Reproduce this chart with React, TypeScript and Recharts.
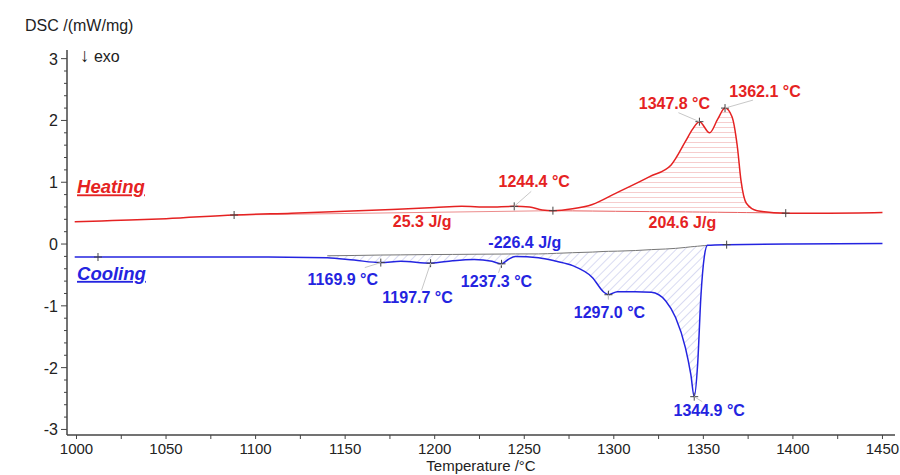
import React from "react";
import {
  ComposedChart,
  Line,
  Area,
  Scatter,
  XAxis,
  YAxis,
  ReferenceDot,
} from "recharts";

// heating run
const heatTemp = [
  999, 1020, 1050, 1088, 1120, 1150, 1176, 1200, 1215, 1230, 1244.4, 1253,
  1260, 1266, 1277, 1288, 1301, 1320, 1332, 1340, 1344, 1347.8, 1353.5, 1358,
  1362.1, 1366, 1369, 1371, 1374, 1380, 1396, 1420, 1450,
];
const heatDsc = [
  0.36, 0.38, 0.41, 0.47, 0.5, 0.53, 0.56, 0.59, 0.61, 0.6, 0.61, 0.6, 0.55,
  0.54, 0.57, 0.64, 0.82, 1.09, 1.28, 1.66, 1.86, 1.98, 1.8, 2.02, 2.2, 2.06,
  1.57, 1.03, 0.66, 0.54, 0.5, 0.5, 0.51,
];
// integration baseline under the melting peak
const heatBase = [
  null, null, null, null, null, null, null, null, null, null, null, null, null,
  0.54, 0.537, 0.534, 0.53, 0.525, 0.522, 0.52, 0.519, 0.518, 0.516, 0.515,
  0.513, 0.512, 0.511, 0.51, 0.509, 0.507, 0.5, null, null,
];

// cooling run
const coolTemp = [
  999, 1012, 1050, 1100, 1140, 1155, 1169.9, 1181, 1197.7, 1210, 1222, 1232,
  1237.3, 1241, 1245, 1258, 1268, 1277, 1288, 1294.5, 1297.0, 1302, 1312, 1321,
  1329, 1334.5, 1340, 1343, 1344.9, 1346.8, 1348.6, 1350.5, 1352.3, 1363, 1400,
  1450,
];
const coolDsc = [
  -0.21, -0.21, -0.21, -0.21, -0.22, -0.26, -0.3, -0.28, -0.31, -0.27, -0.25,
  -0.28, -0.32, -0.25, -0.2, -0.22, -0.28, -0.35, -0.54, -0.78, -0.82, -0.77,
  -0.77, -0.78, -0.92, -1.19, -1.68, -2.11, -2.47, -1.95, -0.86, -0.21, -0.02,
  -0.01, 0.0, 0.01,
];
const coolBase = [
  null, null, null, null, -0.19, -0.185, -0.178, -0.175, -0.17, -0.168, -0.165,
  -0.163, -0.162, -0.161, -0.16, -0.16, -0.15, -0.14, -0.13, -0.12, -0.118,
  -0.115, -0.105, -0.09, -0.08, -0.07, -0.055, -0.045, -0.04, -0.035, -0.03,
  -0.025, -0.02, null, null, null,
];

const heatMarks = [1088, 1244.4, 1266, 1347.8, 1362.1, 1396];
const coolMarks = [1012, 1169.9, 1197.7, 1237.3, 1297.0, 1344.9, 1363];
const heatPeaks = [1244.4, 1347.8, 1362.1];
const coolPeaks = [1169.9, 1197.7, 1237.3, 1297.0, 1344.9];
const heatEnthalpy = [25.3, 204.6];
const coolEnthalpy = [-226.4];

const xMajor = [1000, 1050, 1100, 1150, 1200, 1250, 1300, 1350, 1400, 1450];
const yMajor = [-3, -2, -1, 0, 1, 2, 3];

const xTicks: number[] = [];
for (let t = 1000; t <= 1450; t += 25) xTicks.push(t);
const yTicks: number[] = [];
for (let i = -15; i <= 15; i++) yTicks.push(Math.round(i * 2) / 10);

const RED = "#e52222";
const BLUE = "#2424e0";
const FONT = "'Liberation Sans', Arial, sans-serif";

const heatLine = heatTemp.map((t, i) => ({ t, v: heatDsc[i] }));
const coolLine = coolTemp.map((t, i) => ({ t, v: coolDsc[i] }));
const heatBaseLine = heatTemp
  .map((t, i) => ({ t, v: heatBase[i] }))
  .filter((d) => d.v != null);
const coolBaseLine = coolTemp
  .map((t, i) => ({ t, v: coolBase[i] }))
  .filter((d) => d.v != null);
const heatHatch = heatTemp
  .map((t, i) => ({ t, range: [heatBase[i], heatDsc[i]] }))
  .filter((d) => d.range[0] != null);
const coolHatch = coolTemp
  .map((t, i) => ({ t, range: [coolDsc[i], coolBase[i]] }))
  .filter((d) => d.range[1] != null);

const heatAt = (t: number) => heatDsc[heatTemp.indexOf(t)];
const coolAt = (t: number) => coolDsc[coolTemp.indexOf(t)];

// small pre-melting step, baseline between its two limits
const smallBase = [1088, 1266].map((t) => ({ t, v: heatAt(t) }));

const heatMarkPts = heatMarks.map((t) => ({ t, v: heatAt(t) }));
const coolMarkPts = coolMarks.map((t) => ({ t, v: coolAt(t) }));

// label offsets (px) from each peak marker, and leader line end
const heatPeakLayout = [
  { dx: 20, dy: -19, lx: 17, ly: -15 },
  { dx: -25, dy: -13, lx: -21, ly: -9 },
  { dx: 40, dy: -11, lx: 28, ly: -8 },
];
const coolPeakLayout = [
  { dx: -38, dy: 22, lx: -16, ly: 5 },
  { dx: -13, dy: 40, lx: -9, ly: 27 },
  { dx: -5, dy: 23, lx: -3, ly: 9 },
  { dx: 1, dy: 23, lx: 0, ly: 5 },
  { dx: 15, dy: 19, lx: 8, ly: 5 },
];
const heatEnthalpyPos = [
  { x: 1193, y: 0.28 },
  { x: 1338.3, y: 0.26 },
];
const coolEnthalpyPos = [{ x: 1250.3, y: -0.07 }];

const Cross = (props: any) => {
  const { cx, cy } = props;
  if (cx == null || cy == null) return <g />;
  return (
    <path
      d={`M${cx - 4},${cy}h8M${cx},${cy - 4}v8`}
      stroke="#444"
      strokeWidth={1}
      fill="none"
    />
  );
};

const peakLabel =
  (text: string, color: string, o: { dx: number; dy: number; lx: number; ly: number }) =>
  (props: any) => {
    const { cx, cy } = props;
    return (
      <g>
        <line
          x1={cx}
          y1={cy}
          x2={cx + o.lx}
          y2={cy + o.ly}
          stroke="#c8c8c8"
          strokeWidth={1}
        />
        <text
          x={cx + o.dx}
          y={cy + o.dy}
          textAnchor="middle"
          fill={color}
          fontFamily={FONT}
          fontWeight="bold"
          fontSize={16}
        >
          {text}
        </text>
      </g>
    );
  };

const plainLabel =
  (text: string, color: string, anchor: "middle" | "start", extra: any = {}) =>
  (props: any) => (
    <text
      x={props.cx}
      y={props.cy}
      textAnchor={anchor}
      fill={color}
      fontFamily={FONT}
      fontWeight="bold"
      fontSize={16}
      {...extra}
    >
      {text}
    </text>
  );

const XTick = (props: any) => {
  const { x, y, payload } = props;
  const major = xMajor.includes(payload.value);
  return (
    <g>
      <line x1={x} y1={y} x2={x} y2={y + 4} stroke="#444" strokeWidth={1} />
      {major && (
        <text
          x={x}
          y={y + 19}
          textAnchor="middle"
          fill="#222"
          fontFamily={FONT}
          fontSize={15}
        >
          {payload.value}
        </text>
      )}
    </g>
  );
};

const YTick = (props: any) => {
  const { x, y, payload } = props;
  const major = yMajor.includes(payload.value);
  return (
    <g>
      <line
        x1={x - (major ? 6 : 3)}
        y1={y}
        x2={x}
        y2={y}
        stroke="#444"
        strokeWidth={1}
      />
      {major && (
        <text
          x={x - 9}
          y={y + 6}
          textAnchor="end"
          fill="#222"
          fontFamily={FONT}
          fontSize={16}
        >
          {payload.value}
        </text>
      )}
    </g>
  );
};

export default function App() {
  return (
    <div style={{ position: "absolute", left: 0, top: 0, width: 900, height: 475, background: "#fff" }}>
      <ComposedChart
        width={900}
        height={475}
        margin={{ top: 50, right: 5, bottom: 0, left: 22 }}
      >
        <defs>
          <pattern id="heatHatch" patternUnits="userSpaceOnUse" width={6} height={5}>
            <line x1={0} y1={2.5} x2={6} y2={2.5} stroke="#f4c0c0" strokeWidth={0.8} />
          </pattern>
          <pattern
            id="coolHatch"
            patternUnits="userSpaceOnUse"
            width={6}
            height={6}
            patternTransform="rotate(45)"
          >
            <line x1={0} y1={0} x2={0} y2={6} stroke="#b4b8e6" strokeWidth={1} />
          </pattern>
        </defs>
        <XAxis
          dataKey="t"
          type="number"
          domain={[994.7, 1457]}
          allowDataOverflow
          ticks={xTicks}
          interval={0}
          tickSize={0}
          tickMargin={0}
          tick={<XTick />}
          axisLine={{ stroke: "#444", strokeWidth: 1.5 }}
          height={40}
          label={{
            value: "Temperature /°C",
            position: "insideBottom",
            offset: 4,
            style: { fill: "#222", fontFamily: FONT, fontSize: 15 },
          }}
        />
        <YAxis
          type="number"
          domain={[-3.09, 3.14]}
          allowDataOverflow
          ticks={yTicks}
          interval={0}
          tickSize={0}
          tickMargin={0}
          tick={<YTick />}
          axisLine={{ stroke: "#444", strokeWidth: 1.5 }}
          width={45}
        />
        <Area
          data={heatHatch}
          dataKey="range"
          type="monotone"
          stroke="none"
          fill="url(#heatHatch)"
          fillOpacity={1}
          isAnimationActive={false}
        />
        <Area
          data={coolHatch}
          dataKey="range"
          type="monotone"
          stroke="none"
          fill="url(#coolHatch)"
          fillOpacity={1}
          isAnimationActive={false}
        />
        <Line
          data={smallBase}
          dataKey="v"
          type="linear"
          stroke="#ec8c8c"
          strokeWidth={1}
          dot={false}
          isAnimationActive={false}
        />
        <Line
          data={heatBaseLine}
          dataKey="v"
          type="monotone"
          stroke="#e86060"
          strokeWidth={1}
          dot={false}
          isAnimationActive={false}
        />
        <Line
          data={coolBaseLine}
          dataKey="v"
          type="monotone"
          stroke="#777"
          strokeWidth={1}
          dot={false}
          isAnimationActive={false}
        />
        <Line
          data={heatLine}
          dataKey="v"
          type="monotone"
          stroke={RED}
          strokeWidth={1.5}
          dot={false}
          isAnimationActive={false}
        />
        <Line
          data={coolLine}
          dataKey="v"
          type="monotone"
          stroke={BLUE}
          strokeWidth={1.5}
          dot={false}
          isAnimationActive={false}
        />
        <Scatter data={heatMarkPts} dataKey="v" shape={Cross} isAnimationActive={false} />
        <Scatter data={coolMarkPts} dataKey="v" shape={Cross} isAnimationActive={false} />

        {heatPeaks.map((t, i) => (
          <ReferenceDot
            key={`hp${t}`}
            x={t}
            y={heatAt(t)}
            ifOverflow="visible"
            shape={peakLabel(`${t.toFixed(1)} °C`, RED, heatPeakLayout[i])}
          />
        ))}
        {coolPeaks.map((t, i) => (
          <ReferenceDot
            key={`cp${t}`}
            x={t}
            y={coolAt(t)}
            ifOverflow="visible"
            shape={peakLabel(`${t.toFixed(1)} °C`, BLUE, coolPeakLayout[i])}
          />
        ))}
        {heatEnthalpy.map((h, i) => (
          <ReferenceDot
            key={`he${h}`}
            x={heatEnthalpyPos[i].x}
            y={heatEnthalpyPos[i].y}
            ifOverflow="visible"
            shape={plainLabel(`${h.toFixed(1)} J/g`, RED, "middle")}
          />
        ))}
        {coolEnthalpy.map((h, i) => (
          <ReferenceDot
            key={`ce${h}`}
            x={coolEnthalpyPos[i].x}
            y={coolEnthalpyPos[i].y}
            ifOverflow="visible"
            shape={plainLabel(`${h.toFixed(1)} J/g`, BLUE, "middle")}
          />
        ))}
        <ReferenceDot
          x={1000.3}
          y={0.82}
          ifOverflow="visible"
          shape={plainLabel("Heating", RED, "start", {
            fontStyle: "italic",
            fontSize: 18.5,
            textDecoration: "underline",
          })}
        />
        <ReferenceDot
          x={1000.3}
          y={-0.58}
          ifOverflow="visible"
          shape={plainLabel("Cooling", BLUE, "start", {
            fontStyle: "italic",
            fontSize: 18.5,
            textDecoration: "underline",
          })}
        />
      </ComposedChart>
      <svg
        width={900}
        height={475}
        style={{ position: "absolute", left: 0, top: 0, pointerEvents: "none" }}
      >
        <text x={25} y={31} fill="#222" fontFamily={FONT} fontSize={16}>
          DSC /(mW/mg)
        </text>
        <text x={80} y={62} fill="#222" fontFamily={FONT} fontSize={16}>
          <tspan fontSize={19}>↓</tspan> exo
        </text>
      </svg>
    </div>
  );
}
